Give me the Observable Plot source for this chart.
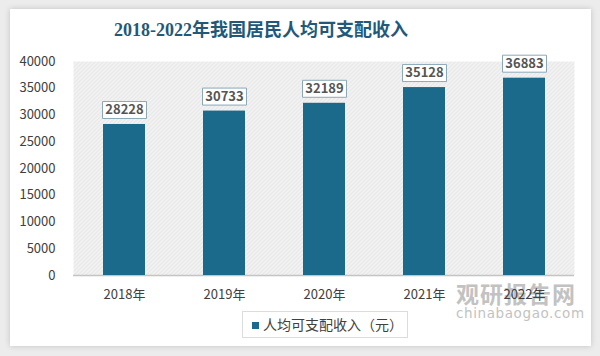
<!DOCTYPE html>
<html><head><meta charset="utf-8">
<script src="https://cdn.jsdelivr.net/npm/d3@7"></script>
<script src="https://cdn.jsdelivr.net/npm/@observablehq/plot@0.6"></script>
<style>
html,body{margin:0;padding:0;background:#ececec;width:600px;height:356px;overflow:hidden;font-family:"Noto Sans CJK SC",sans-serif;}
#card{position:absolute;left:10px;top:9px;width:581px;height:337px;background:#fff;box-shadow:0 0 6px rgba(0,0,0,0.18);}
#title{position:absolute;left:0;top:18px;width:522px;text-align:center;font-family:"Liberation Serif","Noto Sans CJK SC",serif;font-weight:bold;font-size:18px;color:#22597a;line-height:24px;white-space:nowrap;}
#chart{position:absolute;left:0;top:0;}
#legend{position:absolute;left:242px;top:311px;width:164px;height:25px;border:1px solid #dcdcdc;background:#fff;font-size:14px;color:#404040;line-height:25px;white-space:nowrap;}
#legend .sw{display:inline-block;width:7px;height:7px;background:#1c6a8b;margin:0 4px 0 9px;vertical-align:1px;}
#wm{position:absolute;left:456px;top:280px;color:#b8b8b8;opacity:0.85;white-space:nowrap;}
#wm .a{font-size:23px;font-weight:bold;letter-spacing:1px;line-height:26px;}
#wm .b{font-size:13.5px;line-height:15px;letter-spacing:0.6px;font-family:"DejaVu Sans",sans-serif;}
</style></head>
<body>
<div id="card"></div>
<div id="wm"><div class="a">观研报告网</div><div class="b">chinabaogao.com</div></div>
<div id="chart"></div>
<div id="title"></div>
<div id="legend"></div>
<script>
const titleText = "2018-2022年我国居民人均可支配收入";
const seriesName = "人均可支配收入（元）";
const years = ["2018年", "2019年", "2020年", "2021年", "2022年"];
const incomes = [28228, 30733, 32189, 35128, 36883];
const yTicks = [0, 5000, 10000, 15000, 20000, 25000, 30000, 35000, 40000];

document.getElementById("title").textContent = titleText;
document.getElementById("legend").innerHTML = '<span class="sw"></span>' + seriesName;

const data = years.map((y, i) => ({year: y, value: incomes[i]}));
const barColor = "#1c6a8b";
const boxSymbol = {draw(ctx) { ctx.rect(-22, -8.5, 44, 17); }};

const chart = Plot.plot({
  width: 600,
  height: 315,
  marginTop: 61,
  marginBottom: 40,
  marginLeft: 73,
  marginRight: 26,
  style: {background: "transparent", fontFamily: "Noto Sans CJK SC, sans-serif", fontSize: "13px", color: "#404040"},
  x: {domain: years, paddingInner: 0.58, paddingOuter: 0.29},
  y: {domain: [0, 40000]},
  marks: [
    Plot.frame({fill: "url(#hatch)", stroke: "none"}),
    Plot.ruleY([0], {stroke: "#c4c4c4", strokeWidth: 1.5}),
    Plot.barY(data, {x: "year", y: "value", fill: barColor}),
    Plot.dot(data, {x: "year", y: "value", dy: -14.5, symbol: boxSymbol, fill: "#fff", stroke: "#8aa8b8", strokeWidth: 1}),
    Plot.text(data, {x: "year", y: "value", dy: -14.5, text: d => String(d.value), fontWeight: "bold", fontSize: 13, fill: "#555555"}),
    Plot.axisY({ticks: yTicks, tickSize: 0, tickPadding: 18, tickFormat: d => String(d), label: null, fontSize: 13, fill: "#404040"}),
    Plot.axisX({tickSize: 0, tickPadding: 14, label: null, fontSize: 13, fill: "#404040"})
  ]
});

const defs = d3.select(chart).insert("defs", ":first-child");
const pat = defs.append("pattern").attr("id", "hatch").attr("patternUnits", "userSpaceOnUse").attr("width", 4).attr("height", 4);
pat.append("rect").attr("width", 4).attr("height", 4).attr("fill", "#f3f3f3");
pat.append("path").attr("d", "M-1,1 l2,-2 M0,4 l4,-4 M3,5 l2,-2").attr("stroke", "#dedede").attr("stroke-width", 1);

document.getElementById("chart").appendChild(chart);
</script>
</body></html>
